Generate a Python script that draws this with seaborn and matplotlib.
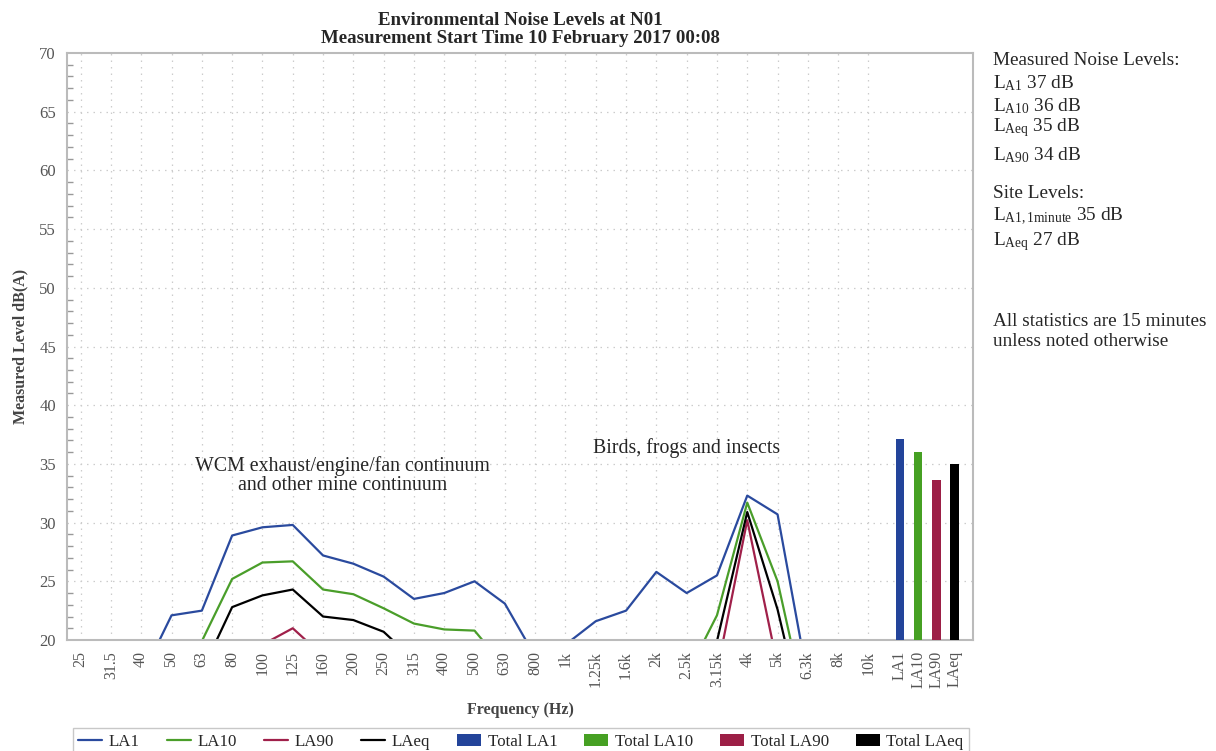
import numpy as np
import pandas as pd
import matplotlib
matplotlib.use("Agg")
import matplotlib.pyplot as plt
from matplotlib.lines import Line2D
from matplotlib.patches import Patch
import seaborn as sns

bands = ['25', '31.5', '40', '50', '63', '80', '100', '125', '160', '200', '250', '315',
         '400', '500', '630', '800', '1k', '1.25k', '1.6k', '2k', '2.5k', '3.15k', '4k',
         '5k', '6.3k', '8k', '10k']
la1 = [14.0, 15.0, 16.8, 22.1, 22.5, 28.9, 29.6, 29.8, 27.2, 26.5, 25.4, 23.5, 24.0, 25.0,
       23.1, 18.6, 19.6, 21.6, 22.5, 25.8, 24.0, 25.5, 32.3, 30.7, 16.6, 13.5, 11.0]
la10 = [12.0, 13.0, 14.0, 17.5, 19.9, 25.2, 26.6, 26.7, 24.3, 23.9, 22.7, 21.4, 20.9, 20.8,
        17.7, 15.5, 15.8, 16.5, 16.8, 18.0, 17.0, 22.1, 31.7, 25.0, 13.4, 11.0, 9.0]
la90 = [9.0, 10.0, 11.0, 12.5, 14.0, 17.5, 19.6, 21.0, 18.65, 18.3, 17.5, 15.5, 15.0, 15.0,
        13.5, 12.0, 12.0, 12.5, 13.0, 14.0, 14.0, 17.3, 30.2, 17.8, 9.5, 8.0, 7.0]
laeq = [11.0, 12.0, 13.0, 15.5, 17.3, 22.8, 23.8, 24.3, 22.0, 21.7, 20.7, 18.3, 18.0, 18.2,
        16.5, 14.5, 14.5, 15.0, 15.5, 16.5, 16.0, 19.9, 30.9, 22.6, 11.7, 10.0, 8.0]
total_labels = ['LA1', 'LA10', 'LA90', 'LAeq']
total_values = [37.1, 36.05, 33.6, 34.97]

series_names = ['LA1', 'LA10', 'LA90', 'LAeq']
colors = {'LA1': '#2a4a9e', 'LA10': '#4a9e2a', 'LA90': '#a0204a', 'LAeq': '#000000'}
bar_colors = ['#23449a', '#46a023', '#9c1f46', '#000000']

sns.set_theme(style='white')
serif = 'Liberation Serif'
plt.rcParams['font.family'] = [serif, 'DejaVu Serif']
plt.rcParams['mathtext.fontset'] = 'custom'
plt.rcParams['mathtext.rm'] = serif
plt.rcParams['mathtext.it'] = serif + ':italic'
plt.rcParams['mathtext.bf'] = serif + ':bold'

fig = plt.figure(figsize=(12.16, 7.51), dpi=100)
ax = fig.add_axes([67 / 1216, 1 - 640 / 751, (973 - 67) / 1216, (640 - 53) / 751])

idx = np.arange(len(bands))
df = pd.DataFrame({
    'x': np.tile(idx, 4),
    'level': la1 + la10 + la90 + laeq,
    'series': np.repeat(series_names, len(bands)),
})
sns.lineplot(data=df, x='x', y='level', hue='series', palette=colors, ax=ax,
             linewidth=1.6, legend=False, estimator=None, sort=False)

bar_x = len(bands) + 0.04 + 0.6 * np.arange(len(total_labels))
ax.bar(bar_x, np.array(total_values) - 20, bottom=20, width=0.28, color=bar_colors,
       edgecolor='none', zorder=3)

ax.set_xlim(-0.45, 29.45)
ax.set_ylim(20, 70)
ax.set_yticks(np.arange(20, 71, 5))
ax.set_yticks(np.arange(20, 71, 1), minor=True)
ax.set_xticks(np.concatenate([idx, bar_x]))
ax.set_xticklabels(bands + total_labels, rotation=90, fontsize=11.5, color='#555555')
ax.tick_params(axis='y', which='major', length=0, labelsize=12, labelcolor='#555555', pad=8)
ax.tick_params(axis='y', which='minor', length=4, direction='in', color='#999999', left=True)
ax.tick_params(axis='x', length=0, pad=8)
ax.grid(False)
for yv in np.arange(25, 70, 5):
    ax.axhline(yv, color='#cccccc', lw=0.9, ls=(0, (1.2, 4)), zorder=0)
for xv in idx:
    ax.axvline(xv, color='#cccccc', lw=0.9, ls=(0, (1.2, 4)), zorder=0)
for s in ax.spines.values():
    s.set_color('#bbbbbb')
    s.set_linewidth(1.5)

ax.set_xlabel('Frequency (Hz)', fontsize=11.5, fontweight='bold', color='#444444', labelpad=10)
ax.set_ylabel('Measured Level dB(A)', fontsize=11.5, fontweight='bold', color='#444444', labelpad=8)
ax.set_title('Environmental Noise Levels at N01\nMeasurement Start Time 10 February 2017 00:08',
             fontsize=13.6, fontweight='bold', linespacing=1.12, pad=7)

ax.text(8.65, 34.0, 'WCM exhaust/engine/fan continuum\nand other mine continuum',
        ha='center', va='center', fontsize=14.3, linespacing=0.95)
ax.text(20.0, 36.35, 'Birds, frogs and insects', ha='center', va='center', fontsize=14.3)

side = [
    (60.7, 'Measured Noise Levels:'),
    (83.3, r'L$_{\mathrm{A1}}$ 37 dB'),
    (105.7, r'L$_{\mathrm{A10}}$ 36 dB'),
    (128.0, r'L$_{\mathrm{Aeq}}$ 35 dB'),
    (155.0, r'L$_{\mathrm{A90}}$ 34 dB'),
    (194.0, 'Site Levels:'),
    (216.7, r'L$_{\mathrm{A1,1minute}}$ 35 dB'),
    (241.7, r'L$_{\mathrm{Aeq}}$ 27 dB'),
    (321.7, 'All statistics are 15 minutes'),
    (341.7, 'unless noted otherwise'),
]
for ypx, txt in side:
    fig.text(993 / 1216, 1 - ypx / 751, txt, ha='left', va='center', fontsize=13.9)

handles = [Line2D([0], [0], color=colors[n], lw=1.6, label=n) for n in series_names]
handles += [Patch(facecolor=c, edgecolor='none', label='Total ' + l)
            for c, l in zip(bar_colors, total_labels)]
leg = fig.legend(handles=handles, loc='upper center', bbox_to_anchor=(521 / 1216, 1 - 728 / 751),
                 ncol=8, fontsize=12.2, frameon=True, fancybox=False, handlelength=1.4,
                 columnspacing=1.6, handletextpad=0.4, borderpad=0.35, borderaxespad=0)
leg.get_frame().set_edgecolor('#bbbbbb')
leg.get_frame().set_linewidth(1.0)

fig.savefig('out.png', dpi=100)
